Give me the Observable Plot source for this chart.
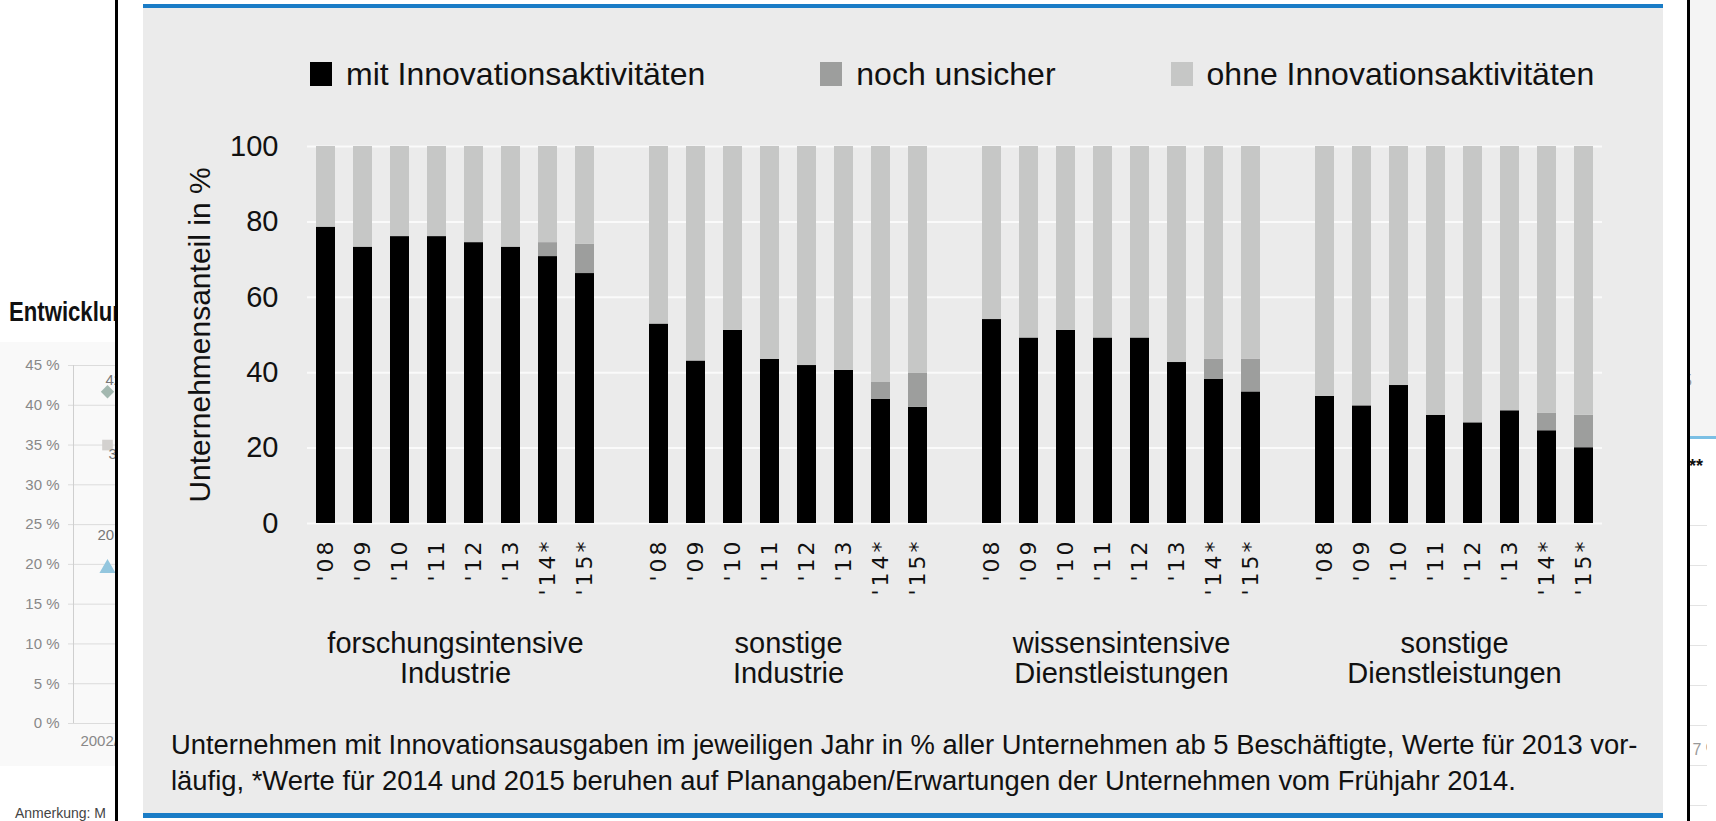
<!DOCTYPE html>
<html><head><meta charset="utf-8">
<script src="https://cdn.jsdelivr.net/npm/d3@7"></script>
<script src="https://cdn.jsdelivr.net/npm/@observablehq/plot@0.6"></script>
<style>
html,body{margin:0;padding:0;background:#fff;width:1716px;height:821px;overflow:hidden;font-family:"Liberation Sans",Arial,sans-serif;}
.abs{position:absolute;}
#leftClip{left:0;top:0;width:115px;height:821px;overflow:hidden;}
#rightClip{left:1690px;top:0;width:26px;height:821px;overflow:hidden;}
#frameL{left:115px;top:0;width:3px;height:821px;background:#000;}
#frameR{left:1687px;top:0;width:3px;height:821px;background:#000;}
#panel{left:143px;top:4px;width:1520px;height:814px;background:#ebebeb;border-top:4px solid #1a7cc6;border-bottom:5px solid #1a7cc6;box-sizing:border-box;}
#legend{left:310px;top:62px;height:24px;display:flex;align-items:center;gap:115px;}
#legend .item{display:flex;align-items:center;gap:14px;font-size:32px;color:#111;white-space:nowrap;}
#legend .sw{width:22px;height:24px;}
#chart{left:143px;top:110px;}
.cap{left:171px;font-size:28px;line-height:36px;color:#111;white-space:nowrap;}
#chart g[aria-label="x-axis tick label"] text{letter-spacing:3px;}
svg{max-width:none !important;}
</style>
</head>
<body>
<div id="leftClip" class="abs">
  <div class="abs" style="left:0;top:342px;width:115px;height:424px;background:#f9f9f9;"></div>
  <div class="abs" style="left:9px;top:297px;font-weight:bold;font-size:27px;color:#111;white-space:nowrap;transform:scaleX(0.82);transform-origin:left top;">Entwicklung</div>
  <div id="leftPlot" class="abs" style="left:0;top:0;width:300px;"></div>
  <div class="abs" style="left:15px;top:805px;font-size:14px;color:#444;white-space:nowrap;">Anmerkung: M</div>
</div>
<div id="rightClip" class="abs">
  <div class="abs" style="left:0;top:0;width:26px;height:436px;background:#f4f4f4;"></div>
  <div class="abs" style="left:0;top:436px;width:26px;height:3px;background:#7bbfe4;"></div>
  <div class="abs" style="left:-7px;top:372px;font-size:16px;color:#999;">5</div>
  <div class="abs" style="left:-1px;top:456px;font-size:18px;font-weight:bold;color:#111;">**</div>
  <div id="rightPlot" class="abs" style="left:0;top:0;width:17px;"></div>
</div>
<div id="frameL" class="abs"></div>
<div id="frameR" class="abs"></div>
<div id="panel" class="abs"></div>
<div id="legend" class="abs"></div>
<div id="chart" class="abs"></div>
<div id="cap1" class="abs cap" style="top:727px;"></div>
<div id="cap2" class="abs cap" style="top:763px;"></div>
<script>
// ---------- main chart data ----------
const groups = ["forschungsintensive\nIndustrie", "sonstige\nIndustrie", "wissensintensive\nDienstleistungen", "sonstige\nDienstleistungen"];
const years = ["'08", "'09", "'10", "'11", "'12", "'13", "'14*", "'15*"];
const seriesNames = ["mit Innovationsaktivitäten", "noch unsicher", "ohne Innovationsaktivitäten"];
const seriesColors = ["#000000", "#9d9e9d", "#c6c7c6"];
const mitForschInd = [78.6, 73.3, 76.1, 76.1, 74.5, 73.3, 70.8, 66.3];
const unsForschInd = [0, 0, 0, 0, 0, 0, 3.7, 7.8];
const mitSonstInd  = [52.9, 43.1, 51.2, 43.5, 41.9, 40.6, 32.9, 30.8];
const unsSonstInd  = [0, 0, 0, 0, 0, 0, 4.5, 9.0];
const mitWissDl    = [54.1, 49.2, 51.2, 49.2, 49.2, 42.7, 38.2, 34.9];
const unsWissDl    = [0, 0, 0, 0, 0, 0, 5.4, 8.7];
const mitSonstDl   = [33.7, 31.2, 36.6, 28.7, 26.7, 29.9, 24.6, 20.1];
const unsSonstDl   = [0, 0, 0, 0, 0, 0, 4.6, 8.6];
const yTicks = [0, 20, 40, 60, 80, 100];
const yLabel = "Unternehmensanteil in %";
const captionLines = [
  "Unternehmen mit Innovationsausgaben im jeweiligen Jahr in % aller Unternehmen ab 5 Beschäftigte, Werte für 2013 vor-",
  "läufig, *Werte für 2014 und 2015 beruhen auf Planangaben/Erwartungen der Unternehmen vom Frühjahr 2014."
];

// ---------- background fragments data ----------
const leftPeriods = ["2002/04", "2004/06"];
const leftTicks = [0, 5, 10, 15, 20, 25, 30, 35, 40, 45];
const leftSymbols = ["diamond2", "square", "triangle"];
const leftColors = ["#a3b8b0", "#d3d1cf", "#93c6de"];
const leftValues = [41.7, 35.0, 19.5];
const leftLabels = ["42 %", "35 %", "20 %"];
const rightGrid = [0, 5, 10, 15, 20, 25, 30, 35];

// ---------- build table ----------
const blocks = [[mitForschInd, unsForschInd], [mitSonstInd, unsSonstInd], [mitWissDl, unsWissDl], [mitSonstDl, unsSonstDl]];
const slots = [];
const rows = [];
groups.forEach((g, gi) => {
  if (gi > 0) slots.push("gap" + gi);
  years.forEach((yr, yi) => {
    const key = gi + "|" + yr;
    slots.push(key);
    const mit = blocks[gi][0][yi], uns = blocks[gi][1][yi];
    rows.push({key, series: seriesNames[0], value: mit});
    rows.push({key, series: seriesNames[1], value: uns});
    rows.push({key, series: seriesNames[2], value: +(100 - mit - uns).toFixed(1)});
  });
});

// ---------- legend ----------
const legend = document.getElementById("legend");
seriesNames.forEach((s, i) => {
  const it = document.createElement("div"); it.className = "item";
  const sw = document.createElement("div"); sw.className = "sw"; sw.style.background = seriesColors[i];
  const tx = document.createElement("span"); tx.textContent = s;
  it.appendChild(sw); it.appendChild(tx); legend.appendChild(it);
});

// ---------- main plot ----------
const W = 1520, H = 590, ML = 164, MR = 61, MT = 36, MB = 177;
const step = (W - ML - MR) / slots.length;
const chart = Plot.plot({
  width: W, height: H, marginLeft: ML, marginRight: MR, marginTop: MT, marginBottom: MB,
  style: {background: "transparent", fontFamily: "Liberation Sans, Arial, sans-serif", fontSize: "29px", color: "#111", overflow: "visible"},
  x: {type: "band", domain: slots, paddingInner: 0.5, paddingOuter: 0.25, axis: null},
  y: {domain: [0, 100], axis: null},
  color: {domain: seriesNames, range: seriesColors},
  marks: [
    Plot.ruleY(yTicks, {stroke: "#fafafa", strokeWidth: 2}),
    Plot.barY(rows, {x: "key", y: "value", fill: "series"}),
    Plot.axisY(yTicks, {tickSize: 0, tickPadding: 29, fontSize: 29, label: null}),
    Plot.axisX({tickRotate: -90, tickSize: 0, tickPadding: 15, fontSize: 22, fontFamily: "DejaVu Sans",
      tickFormat: k => k.startsWith("gap") ? "" : k.split("|")[1], label: null}),
    Plot.text(groups, {x: (d, i) => i + "|" + years[3], text: d => d, frameAnchor: "bottom", lineAnchor: "top",
      dx: step / 2, dy: 108.4, fontSize: 29, lineHeight: 30 / 29}),
    Plot.text([yLabel], {frameAnchor: "left", rotate: -90, textAnchor: "middle", dx: -107, text: d => d, fontSize: 30})
  ]
});
document.getElementById("chart").appendChild(chart);

// ---------- caption (fit first line to its measured width) ----------
const ctx = document.createElement("canvas").getContext("2d");
ctx.font = "100px 'Liberation Sans'";
const capSize = 100 * 1467 / ctx.measureText(captionLines[0]).width;
["cap1", "cap2"].forEach((id, i) => {
  const el = document.getElementById(id);
  el.textContent = captionLines[i];
  el.style.fontSize = capSize.toFixed(2) + "px";
});

// ---------- left background fragment ----------
const lp = Plot.plot({
  width: 300, height: 821, marginTop: 365, marginBottom: 98, marginLeft: 68, marginRight: 0,
  style: {background: "transparent", fontFamily: "Liberation Sans, Arial, sans-serif", fontSize: "15px", color: "#888", maxWidth: "none"},
  x: {type: "point", domain: leftPeriods, range: [107, 297], padding: 0, axis: null},
  y: {domain: [0, 45], axis: null},
  marks: [
    Plot.ruleY(leftTicks, {stroke: "#dcdcdc"}),
    Plot.ruleX([leftPeriods[0]], {y1: 0, y2: 45, dx: -34, stroke: "#cfcfcf"}),
    Plot.axisY(leftTicks, {tickSize: 0, tickPadding: 9, tickFormat: d => d + " %", fill: "#888", label: null}),
    Plot.axisX([leftPeriods[0]], {tickSize: 0, tickPadding: 12, fill: "#888", label: null}),
    Plot.dot(leftValues, {x: () => leftPeriods[0], y: d => d, symbol: (d, i) => leftSymbols[i], fill: (d, i) => leftColors[i], r: 6}),
    Plot.text(leftValues, {x: () => leftPeriods[0], y: d => d, text: (d, i) => leftLabels[i], textAnchor: "start",
      dy: -12, fill: "#777", fontSize: 15}),
  ]
});
document.getElementById("leftPlot").appendChild(lp);
const labs = lp.querySelectorAll('g[aria-label="text"] text');
if (labs.length === 3) {
  labs[0].setAttribute("dx", "-2");
  labs[1].setAttribute("dy", "21"); labs[1].setAttribute("dx", "1");
  labs[2].setAttribute("dy", "-21"); labs[2].setAttribute("dx", "-10");
}

// ---------- right background fragment ----------
const rp = Plot.plot({
  width: 17, height: 821, marginTop: 445, marginBottom: 16, marginLeft: 0, marginRight: 0,
  style: {background: "transparent", fontFamily: "Liberation Sans, Arial, sans-serif", fontSize: "15px", color: "#999", maxWidth: "none"},
  x: {domain: [0, 1], axis: null},
  y: {domain: [0, 45], axis: null},
  marks: [
    Plot.ruleY(rightGrid, {stroke: "#e3e3e3"}),
    Plot.text(["7 %"], {x: 0, y: 7, text: d => d, textAnchor: "start", dx: 2, fill: "#999", fontSize: 16})
  ]
});
document.getElementById("rightPlot").appendChild(rp);
</script>
</body></html>
